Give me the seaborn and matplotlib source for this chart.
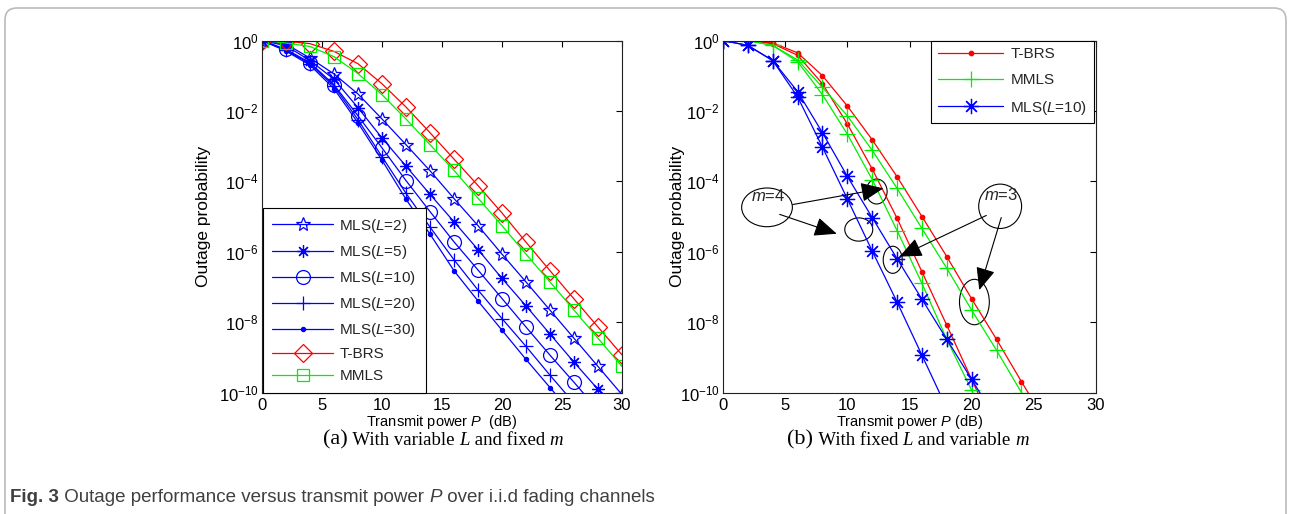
import numpy as np
import pandas as pd
import seaborn as sns
import matplotlib
matplotlib.use("Agg")
import matplotlib.pyplot as plt
from matplotlib.patches import Ellipse, FancyBboxPatch
from matplotlib.ticker import FixedLocator, NullLocator, LogFormatterSciNotation
from matplotlib.offsetbox import TextArea, HPacker, AnchoredOffsetbox

sns.set_theme(style="white")
plt.rcParams["font.family"] = ["Liberation Sans", "DejaVu Sans"]
plt.rcParams["mathtext.fontset"] = "custom"
plt.rcParams["mathtext.rm"] = "Liberation Sans"
plt.rcParams["mathtext.it"] = "Liberation Sans:italic"
plt.rcParams["mathtext.bf"] = "Liberation Sans:bold"
plt.rcParams["mathtext.default"] = "regular"

# ---------------- data (log10 of outage probability) ----------------
P = [0, 2, 4, 6, 8, 10, 12, 14, 16, 18, 20, 22, 24, 26, 28, 30]

# panel (a): variable L, fixed m
a_mls_L2 = [0, -0.10, -0.50, -0.95, -1.52, -2.23, -2.96, -3.70, -4.49, -5.26, -6.07, -6.86, -7.66, -8.46, -9.26, -10.06]
a_mls_L5 = [0, -0.15, -0.57, -1.10, -1.91, -2.77, -3.57, -4.37, -5.15, -5.94, -6.76, -7.54, -8.34, -9.14, -9.91, -10.70]
a_mls_L10 = [0, -0.25, -0.63, -1.26, -2.14, -3.05, -3.98, -4.86, -5.72, -6.52, -7.33, -8.14, -8.94, -9.71, -10.50]
a_mls_L20 = [0, -0.28, -0.66, -1.30, -2.25, -3.30, -4.34, -5.30, -6.23, -7.09, -7.90, -8.69, -9.51, -10.30]
a_mls_L30 = [0, -0.30, -0.70, -1.37, -2.34, -3.40, -4.51, -5.50, -6.54, -7.40, -8.23, -9.06, -9.86, -10.66]
a_tbrs = [0, -0.02, -0.09, -0.31, -0.66, -1.23, -1.89, -2.62, -3.37, -4.12, -4.90, -5.73, -6.54, -7.34, -8.14, -8.93]
a_mmls = [0, -0.07, -0.17, -0.46, -0.94, -1.54, -2.23, -2.96, -3.69, -4.48, -5.26, -6.07, -6.86, -7.66, -8.46, -9.26]

# panel (b): fixed L = 10, variable m (m = 3 and m = 4)
b_tbrs_m3 = [0, 0, -0.07, -0.35, -1.00, -1.86, -2.82, -3.87, -5.00, -6.14, -7.34, -8.49, -9.69, -10.85]
b_tbrs_m4 = [0, 0, -0.09, -0.42, -1.23, -2.37, -3.65, -5.05, -6.57, -8.09, -9.63, -11.15]
b_mmls_m3 = [0, 0, -0.14, -0.55, -1.33, -2.14, -3.12, -4.20, -5.34, -6.47, -7.66, -8.80, -10.00, -11.20]
b_mmls_m4 = [0, 0, -0.14, -0.60, -1.54, -2.66, -3.95, -5.40, -6.90, -8.49, -9.94, -11.40]
b_mls_m3 = [0, -0.14, -0.57, -1.45, -2.62, -3.86, -5.03, -6.20, -7.35, -8.49, -9.63, -10.77]
b_mls_m4 = [0, -0.14, -0.57, -1.60, -3.03, -4.50, -5.98, -7.43, -8.94, -10.45]

x_ticks = [0, 5, 10, 15, 20, 25, 30]
y_tick_exps = [0, -2, -4, -6, -8, -10]

a_L_values = ["2", "5", "10", "20", "30"]

BLUE, RED, GREEN = "#0000ff", "#ff0000", "#00ee00"
ASTER = (8, 2, 0)

W, H = 1290, 514
fig = plt.figure(figsize=(W / 100, H / 100), dpi=100)
axL = fig.add_axes([262 / W, 1 - 392.5 / H, 360 / W, 352 / H])
axR = fig.add_axes([723 / W, 1 - 392.5 / H, 373 / W, 352 / H])


def draw(ax, logs, color, marker, ms, filled=False, mew=0.9):
    x = np.array(P[: len(logs)], dtype=float)
    y = 10.0 ** np.array(logs, dtype=float)
    sns.lineplot(x=x, y=y, ax=ax, color=color, marker=marker, markersize=ms,
                 markerfacecolor=(color if filled else "none"), markeredgecolor=color,
                 markeredgewidth=mew, linewidth=0.9, errorbar=None, sort=False,
                 legend=False)
    return ax.lines[-1]


# ---- panel (a)
hA = []
hA.append(draw(axL, a_mls_L2, BLUE, "*", 10))
hA.append(draw(axL, a_mls_L5, BLUE, ASTER, 9))
hA.append(draw(axL, a_mls_L10, BLUE, "o", 10))
hA.append(draw(axL, a_mls_L20, BLUE, "+", 10))
hA.append(draw(axL, a_mls_L30, BLUE, "o", 3, filled=True))
hA.append(draw(axL, a_tbrs, RED, "D", 9))
hA.append(draw(axL, a_mmls, GREEN, "s", 8.5))

# ---- panel (b)
h_tb = draw(axR, b_tbrs_m3, RED, "o", 3.2, filled=True)
draw(axR, b_tbrs_m4, RED, "o", 3.2, filled=True)
h_mm = draw(axR, b_mmls_m3, GREEN, "+", 12)
draw(axR, b_mmls_m4, GREEN, "+", 12)
h_ml = draw(axR, b_mls_m3, BLUE, ASTER, 11)
draw(axR, b_mls_m4, BLUE, ASTER, 11)

for ax in (axL, axR):
    ax.set_yscale("log")
    ax.set_xlim(0, 30)
    ax.set_ylim(1e-10, 1)
    ax.xaxis.set_major_locator(FixedLocator(x_ticks))
    ax.yaxis.set_major_locator(FixedLocator([10.0 ** e for e in y_tick_exps]))
    ax.yaxis.set_minor_locator(NullLocator())
    ax.yaxis.set_major_formatter(LogFormatterSciNotation())
    ax.tick_params(direction="in", length=4, width=0.8, top=True, right=True,
                   labelsize=12, colors="black")
    ax.tick_params(axis="x", pad=4)
    ax.tick_params(axis="y", pad=2.5)
    for s in ax.spines.values():
        s.set_color("#222222")
        s.set_linewidth(0.8)
    ax.set_facecolor("white")
    ax.set_ylabel("Outage probability", fontsize=12.5, color="black")
    ax.grid(False)

axL.set_xlabel(r"Transmit power $\it{P}$  (dB)", fontsize=10.5, color="black")
axR.set_xlabel(r"Transmit power $\it{P}$ (dB)", fontsize=10.5, color="black")
axL.yaxis.set_label_coords(-0.142, 0.5)
axR.yaxis.set_label_coords(-0.101, 0.5)
axL.xaxis.set_label_coords(0.5, -0.058)
axR.xaxis.set_label_coords(0.5, -0.058)

labelsA = ["MLS($\\it{L}$=$\\it{" + v + ")}$" for v in a_L_values] + ["T-BRS", "MMLS"]
legA = axL.legend(hA, labelsA, loc="lower left", bbox_to_anchor=(0.003, 0.0),
                  borderaxespad=0, fontsize=11, frameon=True, fancybox=False,
                  edgecolor="black", framealpha=1, handlelength=4.0,
                  handletextpad=0.4, labelspacing=0.53, borderpad=0.6)
legA.get_frame().set_linewidth(0.8)

legB = axR.legend([h_tb, h_mm, h_ml], ["T-BRS", "MMLS", r"MLS($\it{L}$=10)"],
                  loc="upper right", bbox_to_anchor=(0.995, 1.0), borderaxespad=0,
                  fontsize=11, frameon=True, fancybox=False, edgecolor="black",
                  framealpha=1, handlelength=4.3, handletextpad=0.45,
                  labelspacing=0.76, borderpad=0.45)
legB.get_frame().set_linewidth(0.8)

# ---- annotations on panel (b)
T = axR.transAxes
ell_kw = dict(transform=T, fill=False, edgecolor="black", linewidth=0.8, clip_on=False)
axR.add_patch(Ellipse((0.118, 0.526), 0.136, 0.110, **ell_kw))
axR.add_patch(Ellipse((0.412, 0.571), 0.056, 0.071, **ell_kw))
axR.add_patch(Ellipse((0.364, 0.463), 0.075, 0.066, **ell_kw))
axR.add_patch(Ellipse((0.743, 0.529), 0.115, 0.126, **ell_kw))
axR.add_patch(Ellipse((0.455, 0.377), 0.051, 0.077, **ell_kw))
axR.add_patch(Ellipse((0.674, 0.257), 0.080, 0.129, **ell_kw))
axR.text(0.12, 0.557, r"$\it{m}$=4", transform=T, fontsize=12, ha="center", va="center")
axR.text(0.745, 0.562, r"$\it{m}$=3", transform=T, fontsize=12, ha="center", va="center")
arr = dict(arrowstyle="-|>,head_length=0.7,head_width=0.3", color="black", lw=0.8,
           shrinkA=0, shrinkB=0, mutation_scale=20)
axR.annotate("", xy=(0.430, 0.580), xytext=(0.187, 0.534), xycoords=T, textcoords=T, arrowprops=arr)
axR.annotate("", xy=(0.305, 0.451), xytext=(0.152, 0.506), xycoords=T, textcoords=T, arrowprops=arr)
axR.annotate("", xy=(0.473, 0.386), xytext=(0.706, 0.503), xycoords=T, textcoords=T, arrowprops=arr)
axR.annotate("", xy=(0.687, 0.291), xytext=(0.746, 0.497), xycoords=T, textcoords=T, arrowprops=arr)

# ---- captions
def rich(parts, xy, loc):
    boxes = [TextArea(t, textprops=p) for t, p in parts]
    pack = HPacker(children=boxes, align="baseline", pad=0, sep=0)
    box = AnchoredOffsetbox(loc=loc, child=pack, pad=0, borderpad=0, frameon=False,
                            bbox_to_anchor=xy, bbox_transform=fig.transFigure)
    fig.add_artist(box)

serif = dict(family="Liberation Serif", size=13.5, color="black")
serif_big = dict(family="Liberation Serif", size=16, color="black")
serif_it = dict(family="Liberation Serif", size=13.5, style="italic", color="black")
rich([("(a)", serif_big), (" With variable ", serif), ("L", serif_it),
      (" and fixed ", serif), ("m", serif_it)], (443 / W, 1 - 440 / H), "center")
rich([("(b)", serif_big), (" With fixed ", serif), ("L", serif_it),
      (" and variable ", serif), ("m", serif_it)], (908 / W, 1 - 440 / H), "center")

cap = dict(family="Liberation Sans", size=13.5, color="#404040")
cap_b = dict(cap, weight="bold")
cap_i = dict(cap, style="italic")
rich([("Fig. 3", cap_b), (" Outage performance versus transmit power ", cap), ("P", cap_i),
      (" over i.i.d fading channels", cap)], (10 / W, 1 - 497 / H), "center left")

frame = FancyBboxPatch((5, -30), 1281, H - 8 + 30, boxstyle="round,pad=0,rounding_size=12",
                       transform=None, fill=False, edgecolor="#bbbbbb", linewidth=1.2)
fig.add_artist(frame)

fig.savefig("out.png", dpi=100, facecolor="white")
